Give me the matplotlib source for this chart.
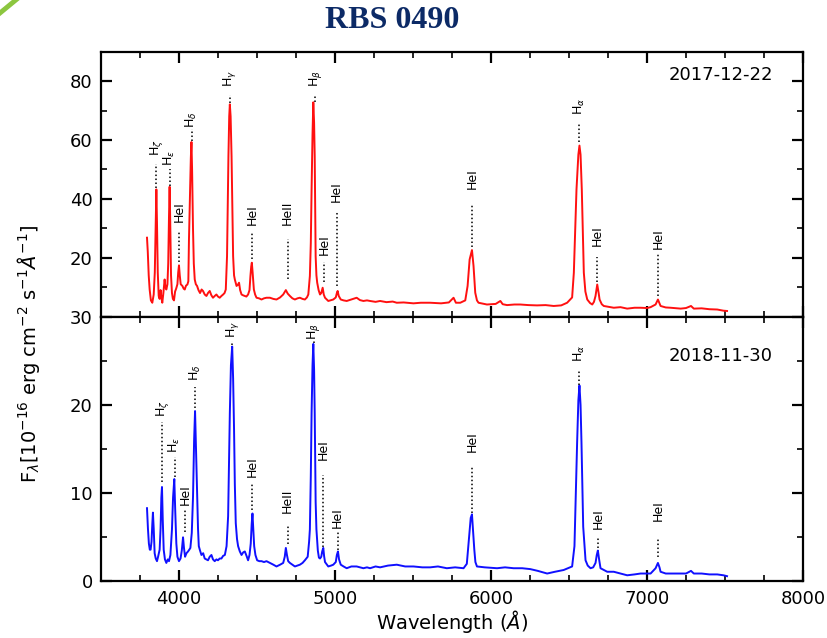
import matplotlib
matplotlib.use("Agg")
import matplotlib.pyplot as plt
from matplotlib.lines import Line2D
from matplotlib.ticker import MultipleLocator

# ---------------- data: 2017-12-22 spectrum (red) ----------------
wave_2017 = [3795, 3800, 3806, 3812, 3820, 3829, 3838, 3845, 3850, 3855, 3859, 3864, 3870, 3876,
             3882, 3887, 3893, 3900, 3908, 3913, 3919, 3926, 3931, 3936, 3940, 3944, 3949, 3955,
             3961, 3968, 3975, 3982, 3990, 3995, 4000, 4005, 4011, 4022, 4030, 4037, 4045, 4054,
             4060, 4064, 4070, 4076, 4080, 4084, 4090, 4095, 4101, 4108, 4116, 4125, 4135, 4145,
             4154, 4165, 4176, 4186, 4197, 4208, 4218, 4229, 4240, 4250, 4261, 4272, 4283, 4292,
             4300, 4308, 4317, 4322, 4326, 4331, 4337, 4343, 4347, 4353, 4358, 4369, 4377, 4385,
             4392, 4401, 4412, 4422, 4432, 4443, 4452, 4458, 4463, 4467, 4472, 4480, 4488, 4497,
             4513, 4529, 4545, 4561, 4583, 4605, 4625, 4648, 4668, 4685, 4697, 4711, 4727, 4743,
             4760, 4775, 4792, 4807, 4820, 4829, 4839, 4845, 4850, 4856, 4861, 4866, 4870, 4876,
             4881, 4886, 4895, 4904, 4912, 4921, 4928, 4936, 4957, 4975, 4989, 5005, 5012, 5017,
             5024, 5037, 5055, 5075, 5105, 5139, 5160, 5182, 5205, 5225, 5260, 5289, 5330, 5370,
             5396, 5440, 5503, 5550, 5610, 5680, 5730, 5760, 5775, 5803, 5835, 5850, 5863, 5878,
             5888, 5899, 5910, 5920, 5974, 6030, 6060, 6075, 6103, 6150, 6188, 6240, 6295, 6350,
             6402, 6450, 6488, 6520, 6531, 6548, 6560, 6567, 6574, 6582, 6595, 6605, 6617, 6635,
             6649, 6660, 6670, 6681, 6690, 6696, 6710, 6723, 6787, 6830, 6873, 6920, 6959, 7000,
             7023, 7055, 7070, 7080, 7087, 7120, 7151, 7216, 7250, 7282, 7300, 7350, 7400, 7450,
             7490, 7513]
flux_2017 = [26.8, 22.0, 14.0, 9.2, 5.5, 4.7, 7.5, 15.0, 30.0, 43.2, 32.0, 15.0, 7.0, 6.0,
             9.0, 6.5, 4.7, 8.0, 12.6, 10.0, 9.2, 11.0, 18.0, 34.0, 44.1, 32.0, 14.0, 8.0,
             6.0, 5.5, 8.5, 9.5, 11.0, 15.0, 17.4, 14.0, 11.0, 10.4, 9.5, 9.2, 10.5, 10.9,
             12.0, 26.2, 40.0, 54.0, 59.3, 50.0, 29.6, 18.0, 12.6, 11.0, 10.4, 9.0, 8.0, 9.2,
             8.7, 7.5, 7.0, 8.0, 8.7, 7.2, 6.4, 7.0, 7.5, 6.8, 6.4, 7.0, 7.5, 8.0,
             9.2, 20.5, 54.5, 68.0, 72.1, 68.0, 54.5, 35.0, 20.5, 14.0, 12.6, 10.4, 10.8, 11.5,
             9.0, 7.5, 7.2, 7.0, 6.8, 7.5, 9.0, 13.8, 17.0, 18.3, 15.0, 9.2, 7.5, 6.4,
             6.2, 5.8, 6.2, 6.4, 6.4, 6.0, 5.8, 6.5, 7.5, 9.0, 7.8, 7.0, 6.2, 5.8,
             6.2, 6.4, 6.0, 5.8, 6.5, 7.5, 13.8, 25.0, 43.2, 62.0, 72.8, 66.0, 54.5, 20.5,
             14.0, 11.5, 9.0, 7.5, 8.0, 9.8, 7.5, 6.4, 5.3, 5.6, 5.8, 6.5, 8.0, 8.7,
             7.0, 5.8, 5.5, 5.3, 5.8, 6.4, 5.6, 5.3, 5.5, 5.3, 5.0, 5.3, 4.9, 5.1,
             4.7, 4.8, 4.5, 4.7, 4.7, 4.5, 4.8, 6.4, 4.7, 4.7, 5.5, 10.4, 19.4, 22.6,
             17.2, 8.1, 5.5, 4.7, 4.1, 4.3, 5.3, 4.2, 3.9, 4.1, 4.1, 3.9, 3.8, 3.9,
             3.6, 3.8, 4.7, 6.5, 14.9, 43.2, 55.0, 58.1, 55.0, 43.2, 14.9, 8.5, 5.8, 4.6,
             4.1, 5.0, 7.0, 10.9, 8.0, 5.8, 4.2, 3.6, 3.0, 3.2, 2.7, 3.0, 3.0, 2.9,
             3.2, 4.1, 5.8, 4.5, 3.6, 3.1, 3.0, 2.7, 2.9, 3.6, 2.7, 2.8, 2.5, 2.4,
             2.0, 1.9]

# ---------------- data: 2018-11-30 spectrum (blue) ----------------
wave_2018 = [3795, 3801, 3807, 3813, 3818, 3824, 3829, 3833, 3838, 3844, 3851, 3859, 3866, 3876,
             3882, 3887, 3891, 3896, 3902, 3910, 3919, 3928, 3936, 3945, 3955, 3962, 3970, 3976,
             3983, 3990, 4000, 4010, 4018, 4026, 4032, 4039, 4048, 4058, 4066, 4073, 4082, 4090,
             4097, 4103, 4109, 4116, 4122, 4127, 4135, 4144, 4155, 4165, 4176, 4186, 4197, 4208,
             4218, 4229, 4240, 4250, 4261, 4272, 4283, 4294, 4305, 4315, 4326, 4333, 4341, 4347,
             4353, 4358, 4364, 4372, 4379, 4390, 4401, 4412, 4422, 4433, 4443, 4452, 4460, 4466,
             4471, 4476, 4482, 4490, 4501, 4515, 4529, 4545, 4561, 4583, 4605, 4625, 4648, 4668,
             4678, 4685, 4692, 4700, 4711, 4727, 4743, 4760, 4775, 4792, 4807, 4825, 4834, 4839,
             4845, 4850, 4856, 4861, 4866, 4870, 4876, 4881, 4890, 4897, 4904, 4912, 4918, 4925,
             4930, 4936, 4957, 4975, 4989, 5005, 5012, 5019, 5026, 5037, 5055, 5075, 5105, 5139,
             5160, 5182, 5205, 5225, 5260, 5289, 5340, 5396, 5450, 5503, 5560, 5610, 5660, 5717,
             5770, 5824, 5845, 5856, 5870, 5878, 5886, 5893, 5900, 5910, 5960, 6039, 6090, 6145,
             6200, 6252, 6300, 6360, 6410, 6466, 6520, 6535, 6541, 6552, 6560, 6567, 6574, 6580,
             6591, 6606, 6620, 6638, 6655, 6670, 6678, 6685, 6693, 6702, 6745, 6787, 6830, 6873,
             6920, 6959, 7000, 7023, 7055, 7070, 7080, 7087, 7120, 7151, 7216, 7250, 7282, 7300,
             7350, 7400, 7450, 7490, 7513]
flux_2018 = [8.3, 6.0, 4.3, 3.6, 3.6, 4.5, 6.5, 7.8, 6.0, 3.2, 2.6, 2.3, 2.8, 3.6,
             6.0, 9.5, 10.7, 7.0, 3.6, 2.5, 2.1, 2.5, 2.3, 3.0, 5.9, 9.5, 11.6, 8.0,
             4.3, 2.8, 2.3, 2.6, 3.5, 5.0, 3.8, 2.8, 3.2, 3.4, 3.6, 3.8, 5.5, 9.6,
             16.0, 19.3, 15.0, 9.6, 6.0, 4.0, 3.5, 3.0, 3.2, 2.6, 2.5, 2.4, 2.8, 3.0,
             2.5, 2.3, 2.5, 2.4, 2.6, 2.6, 2.9, 3.0, 4.0, 7.4, 19.1, 24.5, 26.6, 23.0,
             17.2, 11.0, 6.6, 4.8, 4.0, 3.4, 3.0, 3.3, 3.4, 2.9, 2.4, 3.0, 4.3, 6.5,
             7.7, 6.0, 4.0, 3.0, 2.4, 2.3, 2.3, 2.2, 2.3, 2.1, 1.9, 1.7, 1.9, 2.1,
             2.8, 3.8, 3.0, 2.3, 2.1, 1.9, 1.7, 1.8, 1.9, 2.1, 2.4, 2.8, 4.5, 5.9,
             12.0, 19.1, 24.5, 26.9, 24.0, 19.1, 9.0, 5.9, 3.5, 2.7, 2.6, 2.8, 3.4, 3.8,
             2.9, 2.2, 1.7, 1.8, 1.9, 2.2, 3.0, 3.4, 2.5, 1.9, 1.7, 1.5, 1.7, 1.7,
             1.6, 1.5, 1.6, 1.5, 1.7, 1.6, 1.8, 1.9, 1.7, 1.7, 1.6, 1.6, 1.7, 1.5,
             1.6, 1.5, 2.0, 4.3, 7.2, 7.6, 5.5, 3.6, 2.2, 1.7, 1.6, 1.5, 1.6, 1.5,
             1.5, 1.4, 1.2, 0.9, 1.1, 1.3, 1.7, 4.0, 8.1, 15.7, 20.5, 22.2, 20.0, 15.7,
             6.2, 2.4, 1.8, 1.5, 1.6, 2.1, 3.0, 3.5, 2.5, 1.5, 1.1, 1.1, 0.9, 0.7,
             0.8, 0.9, 0.9, 0.9, 1.5, 2.1, 1.6, 1.1, 0.9, 0.9, 0.9, 0.9, 1.2, 0.9,
             0.9, 0.8, 0.8, 0.7, 0.6]

# ---------------- line identifications ----------------
line_names = [r'H$_\zeta$', r'H$_\epsilon$', 'HeI', r'H$_\delta$', r'H$_\gamma$', 'HeI', 'HeII',
              r'H$_\beta$', 'HeI', 'HeI', 'HeI', r'H$_\alpha$', 'HeI', 'HeI']
# top panel (2017-12-22)
lines_top_wave = [3855, 3942, 4000, 4083, 4326, 4471, 4696, 4872, 4929, 5011, 5878, 6567, 6681, 7070]
lines_top_lo = [43.8, 44.2, 18.4, 59.5, 72.6, 19.4, 12.6, 72.9, 11.6, 10.3, 23.5, 59.2, 11.6, 6.9]
lines_top_hi = [51.7, 50.0, 28.9, 63.6, 75.3, 28.6, 26.2, 75.4, 18.4, 35.4, 38.3, 65.3, 20.1, 21.7]
lines_top_txt = [54.5, 51.0, 32.0, 64.2, 78.0, 31.0, 31.0, 78.0, 21.0, 39.0, 43.5, 68.5, 24.0, 23.0]
# bottom panel (2018-11-30)
lines_bot_wave = [3893, 3972, 4037, 4105, 4341, 4470, 4697, 4865, 4926, 5017, 5878, 6567, 6685, 7071]
lines_bot_lo = [11.3, 11.8, 5.6, 19.7, 26.8, 8.1, 4.3, 27.0, 3.9, 3.6, 7.8, 22.3, 3.8, 2.8]
lines_bot_hi = [18.1, 14.1, 8.1, 22.0, 27.2, 11.2, 6.4, 27.2, 12.1, 5.6, 13.0, 24.0, 4.9, 4.9]
lines_bot_txt = [18.6, 14.6, 8.7, 22.7, 27.6, 11.8, 7.7, 27.4, 13.8, 6.0, 14.7, 24.9, 5.9, 6.8]

dates = ['2017-12-22', '2018-11-30']
title = 'RBS 0490'

# ---------------- figure ----------------
fig = plt.figure(figsize=(8.27, 6.38), dpi=100)
fig.subplots_adjust(left=0.1221, right=0.971, bottom=0.0886, top=0.919, hspace=0)
ax1 = fig.add_subplot(2, 1, 1)
ax2 = fig.add_subplot(2, 1, 2, sharex=ax1)

ax1.plot(wave_2017, flux_2017, color='#ff1010', lw=1.4)
ax2.plot(wave_2018, flux_2018, color='#1010ff', lw=1.4)

def annotate(ax, waves, lo, hi, txt):
    for name, w, a, b, t in zip(line_names, waves, lo, hi, txt):
        ax.plot([w, w], [a, b], ls=(0, (1, 1.6)), color='k', lw=1.1)
        ax.text(w, t, name, rotation=90, ha='center', va='bottom', fontsize=9)

annotate(ax1, lines_top_wave, lines_top_lo, lines_top_hi, lines_top_txt)
annotate(ax2, lines_bot_wave, lines_bot_lo, lines_bot_hi, lines_bot_txt)

ax1.set_xlim(3500, 8000)
ax1.set_ylim(0, 90)
ax2.set_ylim(0, 30)
ax1.set_yticks([20, 40, 60, 80])
ax1.yaxis.set_minor_locator(MultipleLocator(10))
ax2.set_yticks([0, 10, 20, 30])
ax2.yaxis.set_minor_locator(MultipleLocator(5))
ax2.set_xticks([4000, 5000, 6000, 7000, 8000])
ax2.xaxis.set_minor_locator(MultipleLocator(250))

for ax in (ax1, ax2):
    for s in ax.spines.values():
        s.set_linewidth(1.6)
    ax.tick_params(which='major', direction='in', length=8, width=1.6,
                   top=True, right=True, labelsize=13, pad=6)
    ax.tick_params(which='minor', direction='in', length=4, width=1.2,
                   top=True, right=True)
ax1.tick_params(labelbottom=False)

ax1.text(0.957, 0.913, dates[0], transform=ax1.transAxes, ha='right', va='center', fontsize=13)
ax2.text(0.957, 0.853, dates[1], transform=ax2.transAxes, ha='right', va='center', fontsize=13)

fig.text(0.035, 0.445, r'F$_\lambda$[10$^{-16}$ erg cm$^{-2}$ s$^{-1}\AA^{-1}$]',
         rotation=90, ha='center', va='center', fontsize=14)
fig.text(0.546, 0.004, r'Wavelength ($\AA$)', ha='center', va='bottom', fontsize=14)

fig.text(0.474, 0.968, title, ha='center', va='center', fontsize=23, fontweight='bold',
         family='Liberation Serif', color='#0c2a66')

fig.add_artist(Line2D([0.0, 17 / 827], [1 - 13 / 638, 1 + 1 / 638],
                      transform=fig.transFigure, color='#8cc63f', lw=3.5))

fig.savefig('out.png', dpi=100)
